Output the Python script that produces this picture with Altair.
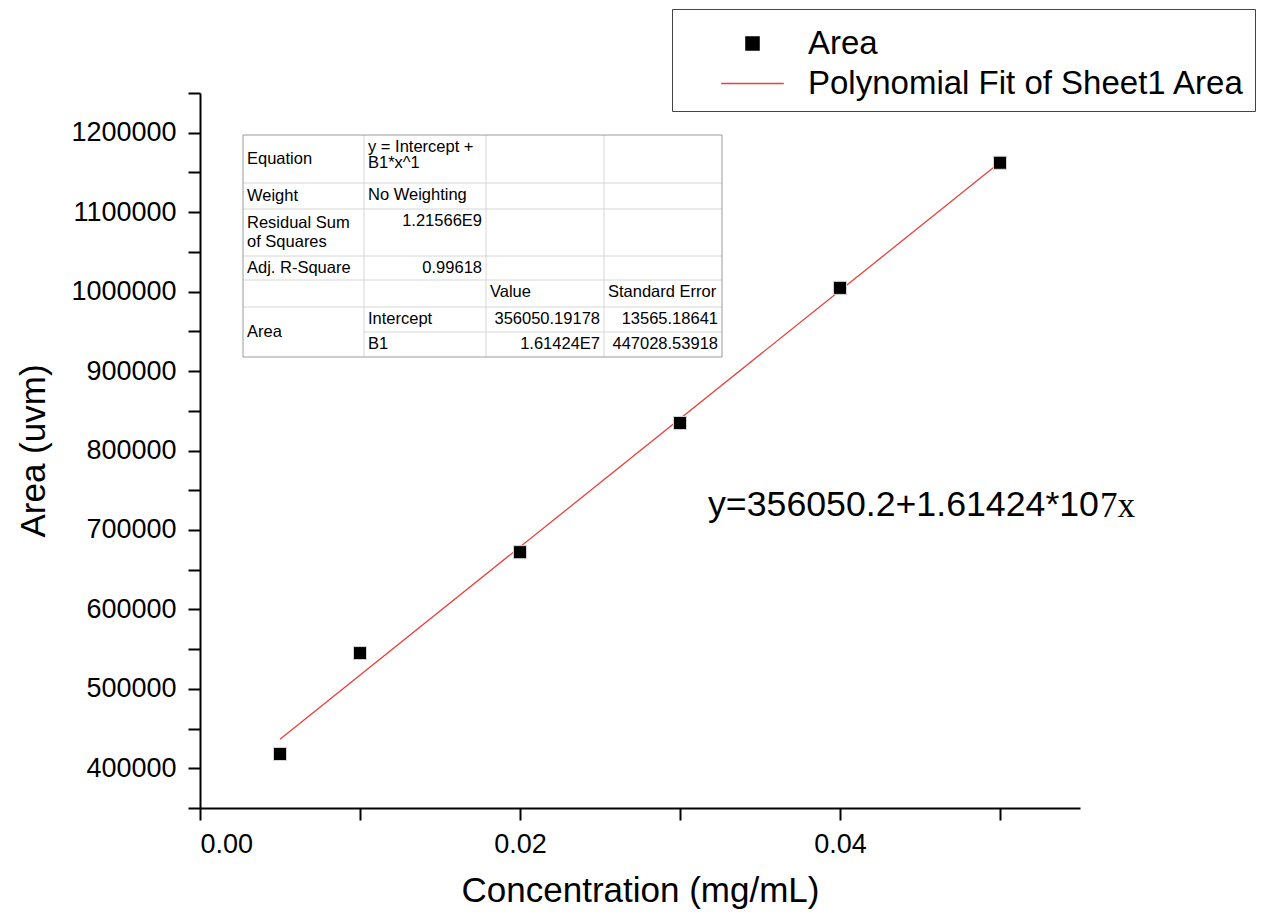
import altair as alt
import pandas as pd

# ---------------- data ----------------
conc = [0.005, 0.01, 0.02, 0.03, 0.04, 0.05]
area = [418000, 545000, 672000, 834600, 1004700, 1162200]

series_names = ["Area", "Polynomial Fit of Sheet1 Area"]
series_colors = ["#000000", "#e8413b"]

x_ticks = [0.0, 0.01, 0.02, 0.03, 0.04, 0.05]
y_ticks = [350000, 400000, 450000, 500000, 550000, 600000, 650000, 700000,
           750000, 800000, 850000, 900000, 950000, 1000000, 1050000,
           1100000, 1150000, 1200000, 1250000]

eq_main = "y=356050.2+1.61424*10"
eq_tail = "7x"

# table contents: (first row, last row, column, lines)
table_cells = [
    (0, 0, 0, ["Equation"]),
    (0, 0, 1, ["y = Intercept +", "B1*x^1"]),
    (1, 1, 0, ["Weight"]),
    (1, 1, 1, ["No Weighting"]),
    (2, 2, 0, ["Residual Sum", "of Squares"]),
    (2, 2, 1, ["1.21566E9"]),
    (3, 3, 0, ["Adj. R-Square"]),
    (3, 3, 1, ["0.99618"]),
    (4, 4, 2, ["Value"]),
    (4, 4, 3, ["Standard Error"]),
    (5, 6, 0, ["Area"]),
    (5, 5, 1, ["Intercept"]),
    (5, 5, 2, ["356050.19178"]),
    (5, 5, 3, ["13565.18641"]),
    (6, 6, 1, ["B1"]),
    (6, 6, 2, ["1.61424E7"]),
    (6, 6, 3, ["447028.53918"]),
]
right_aligned = ["1.21566E9", "0.99618", "356050.19178", "13565.18641",
                 "1.61424E7", "447028.53918"]

# ---------------- layout (pixels) ----------------
W, H = 880, 715
FONT = "Liberation Sans"
col_edges = [43, 164, 286, 404, 522]
row_edges = [42, 90, 116, 163, 187, 214, 239, 264]
T_FS = 16.5

# legend symbol shapes: filled square and a horizontal line
series_shapes = ["M-1,-1H1V1H-1Z", "M-4.8,0H4.8"]

# build table geometry
lines = []
for i, yy in enumerate(row_edges):
    if i in (0, len(row_edges) - 1):
        continue
    x0 = col_edges[1] if i == 6 else col_edges[0]
    lines.append(dict(px=x0, px2=col_edges[-1], py=yy, py2=yy, kind="inner"))
for xx in col_edges[1:-1]:
    lines.append(dict(px=xx, px2=xx, py=row_edges[0], py2=row_edges[-1], kind="inner"))
lines += [
    dict(px=col_edges[0], px2=col_edges[-1], py=row_edges[0], py2=row_edges[0], kind="outer"),
    dict(px=col_edges[0], px2=col_edges[-1], py=row_edges[-1], py2=row_edges[-1], kind="outer"),
    dict(px=col_edges[0], px2=col_edges[0], py=row_edges[0], py2=row_edges[-1], kind="outer"),
    dict(px=col_edges[-1], px2=col_edges[-1], py=row_edges[0], py2=row_edges[-1], kind="outer"),
]
lines_df = pd.DataFrame(lines)

texts = []
for r0, r1, c, tl in table_cells:
    top, bot = row_edges[r0], row_edges[r1 + 1]
    n = len(tl)
    for k, t in enumerate(tl):
        if c == 0:
            y = (top + bot) / 2 + (k - (n - 1) / 2) * 19
        else:
            y = top + 12 + k * 16
        if t in right_aligned:
            texts.append(dict(px=col_edges[c + 1] - 4, py=y, txt=t, al="right"))
        else:
            texts.append(dict(px=col_edges[c] + 4, py=y, txt=t, al="left"))
texts_df = pd.DataFrame(texts)

df = pd.DataFrame({"conc": conc, "area": area, "series": series_names[0]})

xs = alt.Scale(domain=[0, 0.055], nice=False, zero=False)
ys = alt.Scale(domain=[350000, 1250000], nice=False, zero=False)

legend = alt.Legend(
    title=" ", titleFontSize=8, titlePadding=0,
    orient="none", legendX=472, legendY=-84,
    labelFont=FONT, labelFontSize=33, labelColor="black", labelOffset=39,
    labelLimit=0, strokeColor="#444444", fillColor="white", padding=10,
    symbolOffset=54, symbolStrokeWidth=1.5, symbolSize=170, rowPadding=6,
)
color_scale = alt.Scale(domain=series_names, range=series_colors)

x_enc = alt.X("conc:Q", scale=xs, title="Concentration (mg/mL)",
              axis=alt.Axis(values=x_ticks, tickCount=len(x_ticks), format=".2f",
                            labelOverlap=False, labelPadding=11,
                            labelExpr="round(datum.value*100) % 2 === 0 ? datum.label : ''",
                            titleX=W / 2, titleY=82, titleBaseline="middle"))
y_enc = alt.Y("area:Q", scale=ys, title="Area (uvm)",
              axis=alt.Axis(values=y_ticks, tickCount=len(y_ticks), format="d",
                            labelOverlap=False, labelPadding=12,
                            labelExpr="datum.value % 100000 === 0 ? datum.label : ''",
                            titleX=-167, titleY=H / 2, titleBaseline="middle"))

points = alt.Chart(df).mark_point(filled=True, opacity=1, strokeWidth=1, size=170).encode(
    x=x_enc, y=y_enc,
    color=alt.Color("series:N", scale=color_scale, legend=legend),
    stroke=alt.Stroke("series:N", scale=color_scale, legend=legend),
    shape=alt.Shape("series:N", scale=alt.Scale(domain=series_names, range=series_shapes), legend=legend),
)

fit = alt.Chart(df).transform_regression("conc", "area", method="linear").transform_calculate(
    series="'" + series_names[1] + "'"
).mark_line(strokeWidth=1.3).encode(
    x="conc:Q", y="area:Q",
    color=alt.Color("series:N", scale=color_scale, legend=legend),
)

tbl_lines = alt.Chart(lines_df).mark_rule(strokeWidth=1).encode(
    x=alt.X("px:Q", scale=None), x2="px2:Q",
    y=alt.Y("py:Q", scale=None), y2="py2:Q",
    stroke=alt.Stroke("kind:N", scale=alt.Scale(domain=["inner", "outer"], range=["#d6d6d6", "#9a9a9a"]), legend=None),
)
tbl_left = alt.Chart(texts_df).transform_filter("datum.al === 'left'").mark_text(
    align="left", baseline="middle", font=FONT, fontSize=T_FS, color="black"
).encode(x=alt.X("px:Q", scale=None), y=alt.Y("py:Q", scale=None), text="txt:N")
tbl_right = alt.Chart(texts_df).transform_filter("datum.al === 'right'").mark_text(
    align="right", baseline="middle", font=FONT, fontSize=T_FS, color="black"
).encode(x=alt.X("px:Q", scale=None), y=alt.Y("py:Q", scale=None), text="txt:N")

eq_df = pd.DataFrame({"a": [eq_main], "b": [eq_tail]})
eq1 = alt.Chart(eq_df).mark_text(align="left", baseline="middle", font=FONT, fontSize=35.7, color="black").encode(
    x=alt.value(508), y=alt.value(412), text="a:N")
eq2 = alt.Chart(eq_df).mark_text(align="left", baseline="middle", font="Liberation Serif", fontSize=35, color="black").encode(
    x=alt.value(900), y=alt.value(413), text="b:N")

chart = alt.layer(tbl_lines, tbl_left, tbl_right, fit, points, eq1, eq2).properties(
    width=W, height=H, autosize="none",
    padding={"left": 192, "top": 85, "right": 176, "bottom": 112},
).configure_view(stroke=None).configure_axis(
    grid=False, domainColor="black", domainWidth=2, tickColor="black", tickWidth=2,
    tickSize=12, labelFont=FONT, labelFontSize=27, labelColor="black",
    titleFont=FONT, titleFontSize=35, titleFontWeight="normal", titleColor="black",
)

chart.save("out.html", embed_options={"renderer": "svg", "actions": False})
